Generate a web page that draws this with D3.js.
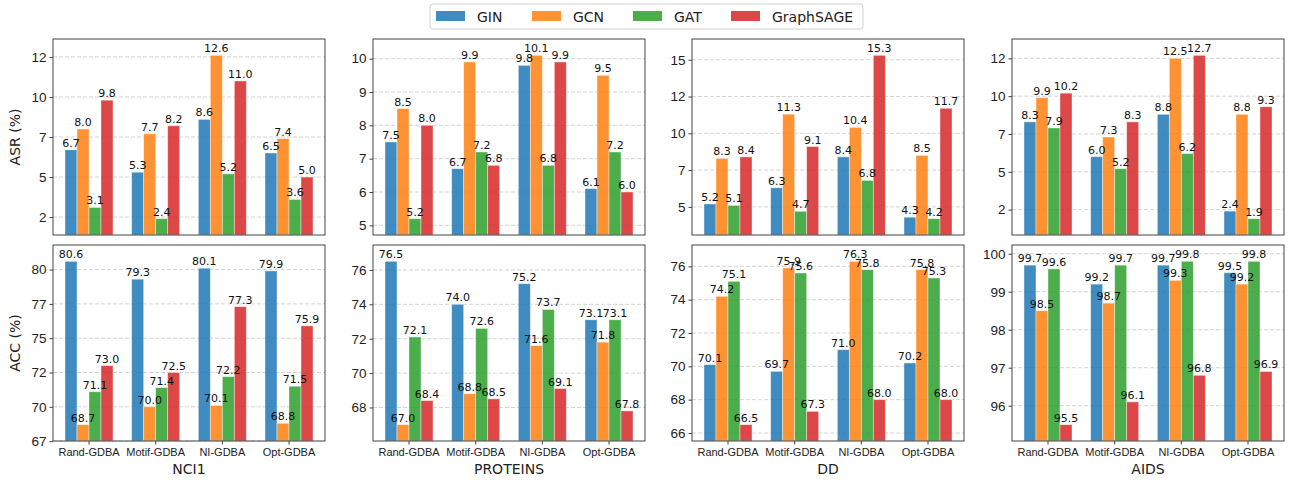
<!DOCTYPE html>
<html>
<head>
<meta charset="utf-8">
<script src="https://cdn.jsdelivr.net/npm/d3@7"></script>
<style>
  body { margin: 0; background: #fff; }
  svg { font-family: "DejaVu Sans", sans-serif; }
</style>
</head>
<body>
<svg id="chart" width="1291" height="480"></svg>
<script>
var categories = ["Rand-GDBA", "Motif-GDBA", "NI-GDBA", "Opt-GDBA"];
var models = ["GIN", "GCN", "GAT", "GraphSAGE"];
var datasets = ["NCI1", "PROTEINS", "DD", "AIDS"];
var colors = ["#1f77b4", "#ff7f0e", "#2ca02c", "#d62728"];

// ASR (%) — rows: GIN, GCN, GAT, GraphSAGE; columns: categories
var nci1Asr = [[6.7, 5.3, 8.6, 6.5], [8.0, 7.7, 12.6, 7.4], [3.1, 2.4, 5.2, 3.6], [9.8, 8.2, 11.0, 5.0]];
var proteinsAsr = [[7.5, 6.7, 9.8, 6.1], [8.5, 9.9, 10.1, 9.5], [5.2, 7.2, 6.8, 7.2], [8.0, 6.8, 9.9, 6.0]];
var ddAsr = [[5.2, 6.3, 8.4, 4.3], [8.3, 11.3, 10.4, 8.5], [5.1, 4.7, 6.8, 4.2], [8.4, 9.1, 15.3, 11.7]];
var aidsAsr = [[8.3, 6.0, 8.8, 2.4], [9.9, 7.3, 12.5, 8.8], [7.9, 5.2, 6.2, 1.9], [10.2, 8.3, 12.7, 9.3]];

// ACC (%)
var nci1Acc = [[80.6, 79.3, 80.1, 79.9], [68.7, 70.0, 70.1, 68.8], [71.1, 71.4, 72.2, 71.5], [73.0, 72.5, 77.3, 75.9]];
var proteinsAcc = [[76.5, 74.0, 75.2, 73.1], [67.0, 68.8, 71.6, 71.8], [72.1, 72.6, 73.7, 73.1], [68.4, 68.5, 69.1, 67.8]];
var ddAcc = [[70.1, 69.7, 71.0, 70.2], [74.2, 75.9, 76.3, 75.8], [75.1, 75.6, 75.8, 75.3], [66.5, 67.3, 68.0, 68.0]];
var aidsAcc = [[99.7, 99.2, 99.7, 99.5], [98.5, 98.7, 99.3, 99.2], [99.6, 99.7, 99.8, 99.8], [95.5, 96.1, 96.8, 96.9]];

// y tick spacing per dataset
var asrTickStep = [2.5, 1, 2.5, 2.5];
var accTickStep = [2.5, 2, 2, 1];

var asrData = [nci1Asr, proteinsAsr, ddAsr, aidsAsr];
var accData = [nci1Acc, proteinsAcc, ddAcc, aidsAcc];

var svg = d3.select("#chart");
var panelW = 272, panelH = 196;
var panelLeft = [53, 373, 692, 1012];
var rowTop = [39, 245];
var rows = [
  { data: asrData, step: asrTickStep, label: "ASR (%)" },
  { data: accData, step: accTickStep, label: "ACC (%)" }
];

rows.forEach(function(row, r) {
  // y label
  svg.append("text")
    .attr("transform", "translate(20," + (rowTop[r] + panelH / 2) + ") rotate(-90)")
    .attr("text-anchor", "middle")
    .attr("font-size", 14)
    .attr("fill", "#222")
    .text(row.label);

  datasets.forEach(function(name, c) {
    var vals = row.data[c];
    var flat = d3.merge(vals);
    var lo = d3.min(flat), hi = d3.max(flat), pad = (hi - lo) * 0.1;
    var g = svg.append("g").attr("transform", "translate(" + panelLeft[c] + "," + rowTop[r] + ")");

    var x = d3.scaleBand().domain(categories).range([0, panelW]).paddingInner(0.28).paddingOuter(0.18);
    var xs = d3.scaleBand().domain(models).range([0, x.bandwidth()]);
    var y = d3.scaleLinear().domain([lo - pad, hi + pad]).range([panelH, 0]);

    var step = row.step[c];
    var ticks = d3.range(Math.ceil((lo - pad - 0.02) / step) * step, hi + pad + 1e-9, step);

    // grid
    g.selectAll(".grid").data(ticks).enter().append("line")
      .attr("x1", 0).attr("x2", panelW)
      .attr("y1", function(t) { return y(t); }).attr("y2", function(t) { return y(t); })
      .attr("stroke", "#b0b0b0").attr("stroke-opacity", 0.7)
      .attr("stroke-dasharray", "4,2").attr("stroke-width", 0.8);

    // bars
    models.forEach(function(m, mi) {
      g.selectAll(".bar" + mi).data(vals[mi]).enter().append("rect")
        .attr("x", function(v, i) { return x(categories[i]) + xs(m); })
        .attr("width", xs.bandwidth())
        .attr("y", function(v) { return y(v); })
        .attr("height", function(v) { return panelH - y(v); })
        .attr("fill", colors[mi]).attr("fill-opacity", 0.85)
        .attr("stroke", "#fff").attr("stroke-opacity", 0.5).attr("stroke-width", 0.8);
    });
    models.forEach(function(m, mi) {
      g.selectAll(".lab" + mi).data(vals[mi]).enter().append("text")
        .attr("x", function(v, i) { return x(categories[i]) + xs(m) + xs.bandwidth() / 2; })
        .attr("y", function(v) { return y(v) - 3; })
        .attr("text-anchor", "middle")
        .attr("font-size", 11)
        .attr("fill", "#111")
        .text(function(v) { return v.toFixed(1); });
    });

    // y axis
    var yAxis = d3.axisLeft(y).tickValues(ticks).tickSize(3.5).tickPadding(3)
      .tickFormat(function(t) { return String(Math.trunc(t + 1e-9)); });
    var ya = g.append("g").call(yAxis);
    ya.select(".domain").remove();
    ya.selectAll("text").attr("font-size", 13.5).attr("fill", "#222");
    ya.selectAll("line").attr("stroke", "#444");

    // frame
    g.append("rect").attr("width", panelW).attr("height", panelH)
      .attr("fill", "none").attr("stroke", "#444").attr("stroke-width", 1);

    if (r === 1) {
      var xa = g.append("g").attr("transform", "translate(0," + panelH + ")")
        .call(d3.axisBottom(x).tickSize(3.5).tickPadding(4));
      xa.select(".domain").remove();
      xa.selectAll("text").attr("font-size", 11).attr("fill", "#222");
      xa.selectAll("line").attr("stroke", "#444");
      g.append("text")
        .attr("x", panelW / 2).attr("y", panelH + 33)
        .attr("text-anchor", "middle")
        .attr("font-size", 14).attr("fill", "#222")
        .text(name);
    }
  });
});

// legend
var legend = svg.append("g").attr("transform", "translate(430,4)");
legend.append("rect").attr("width", 433).attr("height", 25).attr("rx", 3)
  .attr("fill", "#fff").attr("stroke", "#d0d0d0");
var legX = [6, 102, 203, 301];
models.forEach(function(m, i) {
  legend.append("rect").attr("x", legX[i]).attr("y", 7).attr("width", 29).attr("height", 10)
    .attr("fill", colors[i]).attr("fill-opacity", 0.85);
  legend.append("text").attr("x", legX[i] + 41).attr("y", 17.5)
    .attr("font-size", 14).attr("fill", "#222").text(m);
});
</script>
</body>
</html>
